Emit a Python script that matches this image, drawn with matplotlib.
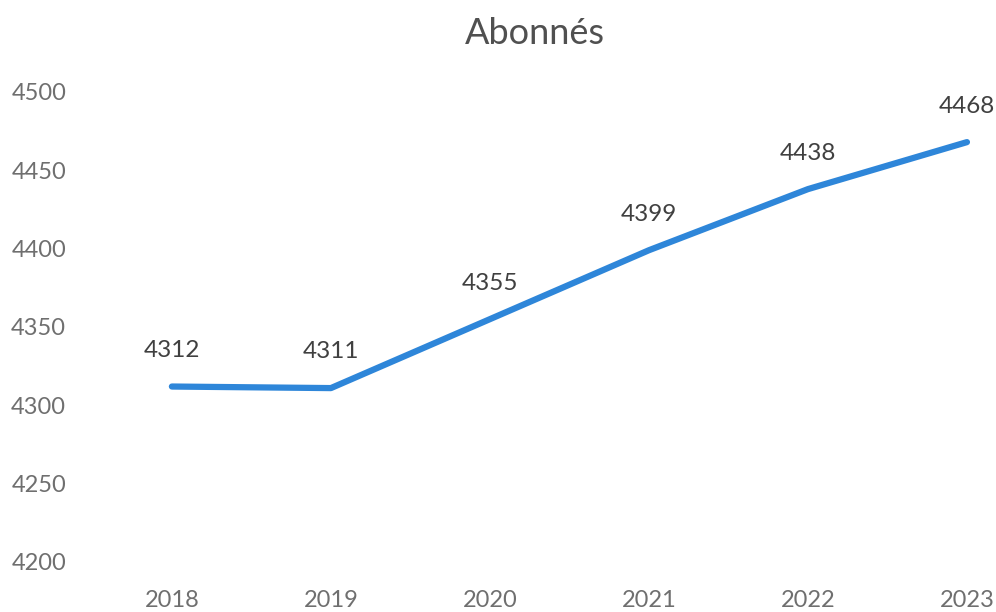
import matplotlib.pyplot as plt

years = [2018, 2019, 2020, 2021, 2022, 2023]
abonnes = [4312, 4311, 4355, 4399, 4438, 4468]
yticks = [4200, 4250, 4300, 4350, 4400, 4450, 4500]

grey = '#6f6f6f'
blue = '#2e86d9'

plt.rcParams['font.family'] = ['Lato', 'DejaVu Sans']

fig = plt.figure(figsize=(9.96, 6.12), dpi=100)
ax = fig.add_axes([0.072, 0.0817, 0.918, 0.768])

ax.plot(years, abonnes, color=blue, linewidth=4.5, solid_capstyle='round')

for x, y in zip(years, abonnes):
    ax.annotate(str(y), (x, y), xytext=(0, 26), textcoords='offset points',
                ha='center', va='center', fontsize=17.5, color='#404040')

ax.set_xlim(2017.37, 2023.12)
ax.set_ylim(4200, 4500)
ax.set_xticks(years)
ax.set_yticks(yticks)
ax.tick_params(length=0, labelsize=17, colors=grey)
ax.tick_params(axis='x', pad=20)
ax.tick_params(axis='y', pad=4)
for s in ax.spines.values():
    s.set_visible(False)

fig.text(0.537, 0.946, 'Abonnés', ha='center', va='center', fontsize=26, color='#505050')

fig.savefig('out.png', dpi=100)
